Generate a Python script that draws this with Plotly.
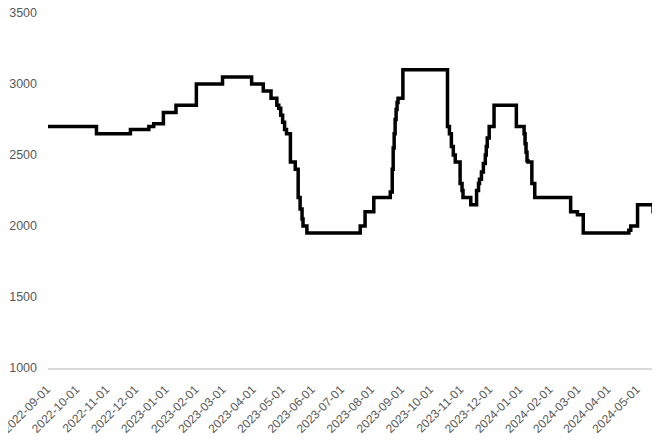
import plotly.graph_objects as go

dates = [
    "2022-08-27", "2022-10-16", "2022-11-20", "2022-12-09", "2022-12-14", "2022-12-24",
    "2023-01-06", "2023-01-27", "2023-02-23", "2023-03-25", "2023-04-06", "2023-04-14",
    "2023-04-20", "2023-04-22", "2023-04-24", "2023-04-26", "2023-04-28", "2023-04-30",
    "2023-05-04", "2023-05-09", "2023-05-12", "2023-05-14", "2023-05-16", "2023-05-17",
    "2023-05-21", "2023-07-15", "2023-07-20", "2023-07-29", "2023-08-15", "2023-08-17",
    "2023-08-18", "2023-08-19", "2023-08-20", "2023-08-21", "2023-08-22", "2023-08-23",
    "2023-08-28", "2023-10-13", "2023-10-15", "2023-10-17", "2023-10-19", "2023-10-21",
    "2023-10-26", "2023-10-28", "2023-10-29", "2023-11-06", "2023-11-12", "2023-11-14",
    "2023-11-15", "2023-11-17", "2023-11-19", "2023-11-21", "2023-11-22", "2023-11-23",
    "2023-11-25", "2023-11-30", "2023-12-23", "2023-12-31", "2024-01-01", "2024-01-02",
    "2024-01-03", "2024-01-04", "2024-01-08", "2024-01-11", "2024-02-17", "2024-02-24",
    "2024-03-01", "2024-04-17", "2024-04-19", "2024-04-26", "2024-05-12", "2024-05-14",
]
prices = [
    2700, 2650, 2680, 2700, 2720, 2800,
    2850, 3000, 3050, 3000, 2950, 2900,
    2850, 2830, 2780, 2730, 2680, 2650,
    2450, 2400, 2200, 2120, 2050, 2000,
    1950, 2000, 2100, 2200, 2240, 2400,
    2550, 2650, 2750, 2820, 2870, 2900,
    3100, 2700, 2650, 2560, 2500, 2450,
    2300, 2250, 2200, 2150, 2250, 2300,
    2330, 2380, 2440, 2500, 2560, 2620,
    2700, 2850, 2700, 2650, 2580, 2520,
    2460, 2450, 2300, 2200, 2100, 2080,
    1950, 1970, 2000, 2150, 2100, 2100,
]

y_ticks = [1000, 1500, 2000, 2500, 3000, 3500]

fig = go.Figure()
fig.add_trace(go.Scatter(
    x=dates, y=prices, mode="lines",
    line=dict(color="#000000", width=3.5, shape="hv"),
    hoverinfo="x+y", showlegend=False,
))

fig.update_layout(
    width=660, height=440,
    margin=dict(l=40, r=13, t=5, b=80),
    paper_bgcolor="white", plot_bgcolor="white",
    font=dict(family="Liberation Sans", size=12.5, color="#595959"),
    xaxis=dict(
        type="date", automargin=False,
        range=["2022-08-27", "2024-05-14"],
        tick0="2022-09-01", dtick="M1", tickformat="%Y-%m-%d",
        tickangle=-45, showgrid=False, zeroline=False,
        showline=True, linecolor="#d9d9d9", linewidth=1.5,
        ticks="", ticklabelstandoff=8, ticklabelshift=-6,
        ticklabeloverflow="allow",
        tickfont=dict(size=12, color="#595959"),
    ),
    yaxis=dict(
        automargin=False,
        range=[1000, 3500], tickvals=y_ticks,
        showgrid=False, zeroline=False, showline=False, ticks="",
        ticklabelstandoff=10, ticklabeloverflow="allow",
        tickfont=dict(size=12.5, color="#595959"),
    ),
)

fig.write_html("out.html")
